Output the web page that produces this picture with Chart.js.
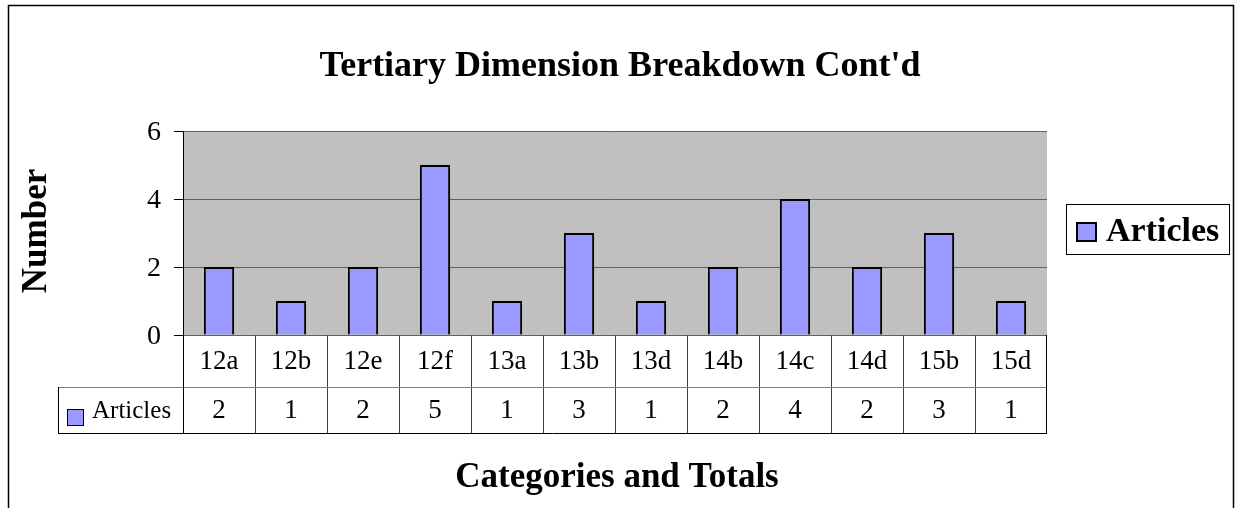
<!DOCTYPE html>
<html>
<head>
<meta charset="utf-8">
<title>Tertiary Dimension Breakdown Cont'd</title>
<script src="https://cdn.jsdelivr.net/npm/chart.js@4"></script>
<style>
    body { margin: 0; background: #fff; overflow: hidden; }
    canvas { display: block; }
</style>
</head>
<body>
<canvas id="chart" width="1236" height="508"></canvas>
<script>
// data
const categories = ['12a', '12b', '12e', '12f', '13a', '13b', '13d', '14b', '14c', '14d', '15b', '15d'];
const articles = [2, 1, 2, 5, 1, 3, 1, 2, 4, 2, 3, 1];
const yTicks = [0, 2, 4, 6];

const serif = "'Liberation Serif', 'Times New Roman', serif";

// frame, plot background, titles, legend and the data table under the axis
const excelBits = {
    id: 'excelBits',
    beforeDraw(chart) {
        const ctx = chart.ctx;
        const a = chart.chartArea;
        ctx.save();
        ctx.fillStyle = '#fff';
        ctx.fillRect(0, 0, chart.width, chart.height);
        ctx.fillStyle = '#C0C0C0';
        ctx.fillRect(a.left, a.top, a.right - a.left, a.bottom - a.top);
        ctx.strokeStyle = '#000';
        ctx.lineWidth = 1.5;
        ctx.strokeRect(8.5, 5.5, 1225, 520);
        ctx.restore();
    },
    afterDraw(chart) {
        const ctx = chart.ctx;
        const a = chart.chartArea;
        const x = chart.scales.x;
        const ds = chart.data.datasets[0];
        ctx.save();
        ctx.fillStyle = '#000';
        ctx.textAlign = 'center';
        ctx.textBaseline = 'middle';

        // titles
        ctx.font = 'bold 36px ' + serif;
        ctx.fillText("Tertiary Dimension Breakdown Cont'd", 620, 67);
        ctx.font = 'bold 35px ' + serif;
        ctx.fillText('Categories and Totals', 617, 478);
        ctx.save();
        ctx.translate(37, 231);
        ctx.rotate(-Math.PI / 2);
        ctx.fillText('Number', 0, 0);
        ctx.restore();

        // data table
        const row1 = a.bottom, row2 = a.bottom + 52, row3 = a.bottom + 98;
        const half = (x.getPixelForValue(1) - x.getPixelForValue(0)) / 2;
        ctx.font = '27px ' + serif;
        categories.forEach((c, i) => {
            const cx = x.getPixelForValue(i);
            ctx.fillText(c, cx, (row1 + row2) / 2 + 1);
            ctx.fillText(String(ds.data[i]), cx, (row2 + row3) / 2 + 1);
        });
        ctx.lineWidth = 1;
        ctx.strokeStyle = '#404040';
        ctx.beginPath();
        for (let i = 1; i < categories.length; i++) {
            const lx = Math.round(x.getPixelForValue(i) - half) + 0.5;
            ctx.moveTo(lx, row1);
            ctx.lineTo(lx, row3);
        }
        ctx.stroke();
        ctx.strokeStyle = '#808080';
        ctx.beginPath();
        ctx.moveTo(58, row2 + 0.5);
        ctx.lineTo(a.right, row2 + 0.5);
        ctx.stroke();
        ctx.strokeStyle = '#000';
        ctx.beginPath();
        ctx.moveTo(a.left + 0.5, row1);
        ctx.lineTo(a.left + 0.5, row3);
        ctx.moveTo(a.right - 0.5, row1);
        ctx.lineTo(a.right - 0.5, row3);
        ctx.moveTo(58.5, row2);
        ctx.lineTo(58.5, row3);
        ctx.moveTo(58, row3 + 0.5);
        ctx.lineTo(a.right, row3 + 0.5);
        ctx.stroke();

        // series key in the table
        ctx.fillStyle = ds.backgroundColor;
        ctx.fillRect(67, 409, 16, 16);
        ctx.strokeRect(67.5, 409.5, 16, 16);
        ctx.fillStyle = '#000';
        ctx.textAlign = 'left';
        ctx.font = '25px ' + serif;
        ctx.fillText(ds.label, 92, (row2 + row3) / 2 + 1);

        // legend
        ctx.strokeStyle = '#000';
        ctx.strokeRect(1066.5, 204.5, 163, 50);
        ctx.fillStyle = ds.backgroundColor;
        ctx.fillRect(1076, 222, 21, 20);
        ctx.lineWidth = 2;
        ctx.strokeRect(1077, 223, 19, 18);
        ctx.fillStyle = '#000';
        ctx.font = 'bold 34px ' + serif;
        ctx.fillText(ds.label, 1106, 232);
        ctx.restore();
    }
};

new Chart(document.querySelector('#chart'), {
    type: 'bar',
    data: {
        labels: categories,
        datasets: [
            {
                label: 'Articles',
                data: articles,
                backgroundColor: '#9999FF',
                borderColor: '#000',
                borderWidth: 2,
                barPercentage: 0.42,
                categoryPercentage: 1
            }
        ]
    },
    options: {
        responsive: false,
        animation: false,
        layout: {
            padding: { left: 100, right: 189, top: 131, bottom: 173 }
        },
        plugins: {
            legend: { display: false },
            title: { display: false },
            tooltip: { enabled: false }
        },
        scales: {
            x: {
                ticks: { display: false },
                grid: { display: false },
                border: { display: false },
                afterFit: s => { s.height = 0; }
            },
            y: {
                min: 0,
                max: 6,
                afterBuildTicks: s => { s.ticks = yTicks.map(v => ({ value: v })); },
                ticks: {
                    color: '#000',
                    padding: 13,
                    labelOffset: 2,
                    font: { family: serif, size: 28 }
                },
                grid: { color: '#606060', tickColor: '#000', tickLength: 9 },
                border: { color: '#000', width: 1 },
                afterFit: s => { s.width = 83; }
            }
        }
    },
    plugins: [excelBits]
});
</script>
</body>
</html>
